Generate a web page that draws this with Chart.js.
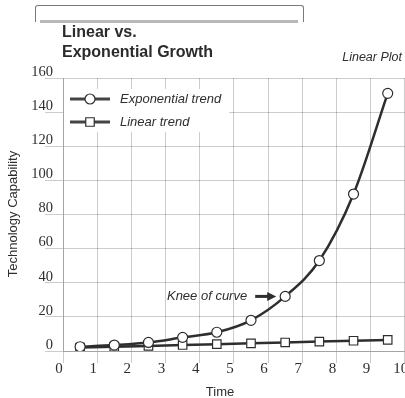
<!DOCTYPE html>
<html>
<head>
<meta charset="utf-8">
<script src="https://cdn.jsdelivr.net/npm/chart.js@4.4.1/dist/chart.umd.min.js"></script>
<style>
  html, body { margin: 0; padding: 0; background: #fff; overflow: hidden; }
  #wrap { position: relative; width: 412px; height: 398px; }
  .frame { position: absolute; left: 35px; top: 5px; width: 267px; height: 16px;
           border: 1px solid #7a7a7a; border-bottom: none; border-radius: 3px 3px 0 0; }
  .bar { position: absolute; left: 40px; top: 20px; width: 258px; height: 3px; background: #b8b8b8; }
</style>
</head>
<body>
<div id="wrap">
  <div class="frame"></div>
  <div class="bar"></div>
  <canvas id="grafico"></canvas>
</div>
<script>
// valores
const tempos = [0.5, 1.5, 2.5, 3.5, 4.5, 5.5, 6.5, 7.5, 8.5, 9.5];
const exponencial = [2.5, 3.5, 5, 8, 11, 18, 32, 53, 92, 151];
const linear = [2, 2.5, 3, 3.5, 4, 4.5, 5, 5.5, 6, 6.5];
const nomes = ['Exponential trend', 'Linear trend'];
const titulo = ['Linear vs.', 'Exponential Growth'];
const subtitulo = 'Linear Plot';
const tituloX = 'Time';
const tituloY = 'Technology Capability';
const nota = 'Knee of curve';
const indiceJoelho = 6;

const sans = '"Liberation Sans", Arial, sans-serif';
const serif = '"Liberation Serif", "Times New Roman", serif';
const escuro = '#2e2e2e';
const grade = 'rgba(0,0,0,0.2)';

const pontos = lista => tempos.map((t, i) => ({ x: t, y: lista[i] }));

const extras = {
  id: 'extras',
  beforeDatasetsDraw(chart) {
    const ctx = chart.ctx;
    const a = chart.chartArea;
    ctx.save();
    // caixa branca da legenda
    ctx.fillStyle = '#fff';
    ctx.fillRect(a.left + 1, a.top + 11, 165, 43);
    const estilos = ['circle', 'rect'];
    nomes.forEach((nome, i) => {
      const y = 99 + i * 23;
      ctx.strokeStyle = '#444';
      ctx.lineWidth = 3;
      ctx.beginPath();
      ctx.moveTo(70, y);
      ctx.lineTo(110, y);
      ctx.stroke();
      ctx.fillStyle = '#fff';
      ctx.lineWidth = 1.2;
      ctx.strokeStyle = escuro;
      Chart.helpers.drawPoint(ctx, { pointStyle: estilos[i], radius: i ? 6 : 5, borderWidth: 1.2 }, 90, y);
      ctx.fillStyle = escuro;
      ctx.font = 'italic 13px ' + sans;
      ctx.textBaseline = 'middle';
      ctx.textAlign = 'left';
      ctx.fillText(nome, 120, y);
    });
    ctx.restore();
  },
  afterDraw(chart) {
    const ctx = chart.ctx;
    const xs = chart.scales.x, ys = chart.scales.y;
    ctx.save();
    ctx.fillStyle = '#2b2b2b';
    ctx.font = 'bold 16px ' + sans;
    ctx.textAlign = 'left';
    ctx.textBaseline = 'alphabetic';
    ctx.fillText(titulo[0], 62, 37);
    ctx.fillText(titulo[1], 62, 57);

    ctx.fillStyle = escuro;
    ctx.font = 'italic 12.5px ' + sans;
    ctx.textAlign = 'right';
    ctx.fillText(subtitulo, 402, 61);

    ctx.font = '13px ' + sans;
    ctx.textAlign = 'center';
    ctx.textBaseline = 'middle';
    ctx.fillText(tituloX, 220, 392);

    ctx.save();
    ctx.translate(13, 214);
    ctx.rotate(-Math.PI / 2);
    ctx.fillText(tituloY, 0, 0);
    ctx.restore();

    // anotacao do joelho da curva
    const px = xs.getPixelForValue(tempos[indiceJoelho]);
    const py = ys.getPixelForValue(exponencial[indiceJoelho]);
    const pontaX = px - 9, y = py;
    ctx.font = 'italic 13px ' + sans;
    ctx.textAlign = 'right';
    ctx.fillText(nota, pontaX - 29, y);
    ctx.strokeStyle = escuro;
    ctx.lineWidth = 3;
    ctx.beginPath();
    ctx.moveTo(pontaX - 21, y);
    ctx.lineTo(pontaX - 7, y);
    ctx.stroke();
    ctx.beginPath();
    ctx.moveTo(pontaX, y);
    ctx.lineTo(pontaX - 9, y - 4.5);
    ctx.lineTo(pontaX - 9, y + 4.5);
    ctx.closePath();
    ctx.fill();
    ctx.restore();
  }
};

new Chart(document.getElementById('grafico'), {
  type: 'line',
  data: {
    datasets: [
      {
        label: nomes[0],
        data: pontos(exponencial),
        borderColor: escuro,
        borderWidth: 2.5,
        cubicInterpolationMode: 'monotone',
        pointStyle: 'circle',
        pointRadius: 5,
        pointBorderWidth: 1.2,
        pointBackgroundColor: '#fff',
        pointBorderColor: escuro
      },
      {
        label: nomes[1],
        data: pontos(linear),
        borderColor: escuro,
        borderWidth: 2.5,
        pointStyle: 'rect',
        pointRadius: 6,
        pointBorderWidth: 1.2,
        pointBackgroundColor: '#fff',
        pointBorderColor: escuro
      }
    ]
  },
  options: {
    responsive: true,
    maintainAspectRatio: false,
    animation: false,
    layout: { padding: { top: 78, right: 4, left: 0, bottom: 0 } },
    plugins: { legend: { display: false }, tooltip: { enabled: false } },
    scales: {
      x: {
        type: 'linear',
        min: 0,
        max: 10,
        afterFit: s => { s.height = 47; },
        ticks: { stepSize: 1, color: escuro, font: { family: serif, size: 15 }, labelOffset: -4, padding: -3 },
        grid: { color: grade, tickLength: 12, tickColor: grade },
        border: { color: grade }
      },
      y: {
        min: 0,
        max: 160,
        afterFit: s => { s.width = 63; },
        ticks: { stepSize: 20, color: escuro, font: { family: serif, size: 14.5 }, labelOffset: -6, padding: -8 },
        grid: { color: grade, tickLength: 18, tickColor: grade },
        border: { color: grade }
      }
    }
  },
  plugins: [extras]
});
</script>
</body>
</html>
